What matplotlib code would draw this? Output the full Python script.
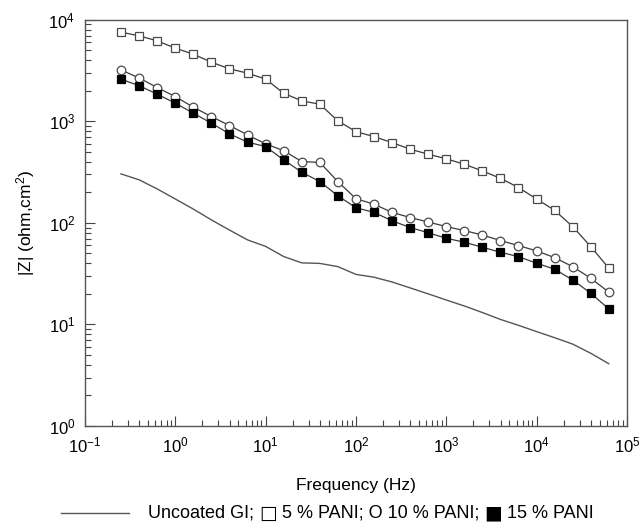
import matplotlib
matplotlib.use("Agg")
from matplotlib import pyplot as plt
from matplotlib.lines import Line2D
from matplotlib.offsetbox import TextArea, HPacker, AnchoredOffsetbox

plt.rcParams["font.family"] = ["Liberation Sans", "DejaVu Sans"]
plt.rcParams["mathtext.fontset"] = "custom"
plt.rcParams["mathtext.rm"] = "Liberation Sans"
plt.rcParams["mathtext.it"] = "Liberation Sans:italic"
plt.rcParams["font.size"] = 12

# frequencies, 5 per decade
freq = [0.25, 0.4, 0.63, 1.0, 1.58, 2.51, 3.98, 6.31, 10.0, 15.8, 25.1, 39.8, 63.1,
        100, 158, 251, 398, 631, 1000, 1585, 2512, 3981, 6310,
        10000, 15850, 25120, 39810, 63100]

uncoated = [304, 265, 216, 172, 137, 107, 85, 68, 58.7, 46.7, 40.4, 39.9, 37.1,
            31.1, 29.2, 26.2, 22.9, 20.0, 17.4, 15.2, 13.1, 11.2, 9.8,
            8.5, 7.4, 6.4, 5.2, 4.1]

pani5 = [7568, 6950, 6209, 5260, 4592, 3828, 3289, 2985, 2606, 1897, 1592, 1476, 1012,
         792, 708, 618, 532, 475, 428, 378, 325, 275, 223,
         172, 133, 92, 58.5, 35.8]

pani10 = [3215, 2667, 2153, 1754, 1380, 1115, 909, 736, 600, 515, 402, 394, 255,
          173, 153, 127, 113, 102, 92, 84, 76, 67, 59.8,
          53, 45.5, 37.1, 28.5, 20.8]

pani15 = [2606, 2240, 1854, 1511, 1205, 960, 754, 624, 565, 418, 316, 255, 185,
          141, 127, 105, 90, 80, 70.6, 64.5, 57.6, 51.4, 46.5,
          40.1, 35.0, 27.4, 20.3, 14.2]

legend_parts = ["Uncoated GI; ", "\u25a1", " 5 % PANI; O 10 % PANI; ", "\u25a0", " 15 % PANI"]

fig = plt.figure(figsize=(6.39, 5.22), dpi=100)
ax = fig.add_axes([0.133, 0.184, 0.848, 0.778])

lc = "#3a3a3a"
ec = "#4a4a4a"
ax.plot(freq, uncoated, color="#555555", lw=1.0)
ax.plot(freq, pani5, color=lc, lw=0.9, marker="s", ms=6.2,
        mfc="white", mec=ec, mew=0.9)
ax.plot(freq, pani10, color=lc, lw=0.9, marker="o", ms=6.2,
        mfc="white", mec=ec, mew=0.9)
ax.plot(freq, pani15, color=lc, lw=0.9, marker="s", ms=6.0,
        mfc="black", mec="black", mew=0.9)

ax.set_xscale("log")
ax.set_yscale("log")
ax.set_xlim(0.1, 1e5)
ax.set_ylim(1, 1e4)

for s in ax.spines.values():
    s.set_color("#555555")
    s.set_linewidth(1.0)

ax.tick_params(which="both", direction="in", top=False, right=False,
               color="#444444", width=0.8)
ax.tick_params(which="major", length=7, pad=7, labelsize=12)
ax.tick_params(which="minor", length=4)

ax.set_xlabel("Frequency (Hz)", fontsize=12.5, labelpad=16)
ax.set_ylabel("|Z| (ohm,cm$^2$)", fontsize=12.5, labelpad=8)

# legend: a line followed by text with symbol glyphs
fig.add_artist(Line2D([61 / 639, 129 / 639], [1 - 513 / 522, 1 - 513 / 522],
                      color="#555555", lw=1.0))
boxes = []
for p in legend_parts:
    if p in ("\u25a1", "\u25a0"):
        boxes.append(TextArea(p, textprops=dict(fontsize=13.5, family="DejaVu Sans")))
    else:
        boxes.append(TextArea(p, textprops=dict(fontsize=13)))
pack = HPacker(children=boxes, sep=0, pad=0, align="center")
anc = AnchoredOffsetbox(loc="center left", child=pack, frameon=False, pad=0, borderpad=0,
                        bbox_to_anchor=(148 / 639, 1 - 513 / 522),
                        bbox_transform=fig.transFigure)
fig.add_artist(anc)

fig.savefig("out.png", dpi=100)
